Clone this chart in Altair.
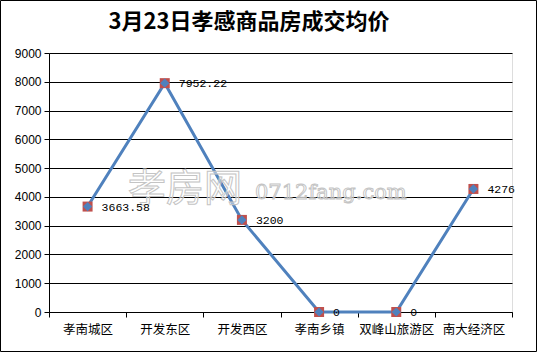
import altair as alt
import pandas as pd

categories = ["孝南城区", "开发东区", "开发西区", "孝南乡镇", "双峰山旅游区", "南大经济区"]
prices = [3663.58, 7952.22, 3200, 0, 0, 4276]
labels = ["3663.58", "7952.22", "3200", "0", "0", "4276"]
y_ticks = [0, 1000, 2000, 3000, 4000, 5000, 6000, 7000, 8000, 9000]
title_text = "3月23日孝感商品房成交均价"

df = pd.DataFrame({"区域": categories, "均价": prices, "label": labels})

W, H = 463, 259
PL, PT, PR, PB = 49, 53, 25, 40

x_enc = alt.X("区域:N", sort=categories,
              scale=alt.Scale(paddingInner=0, paddingOuter=0),
              axis=alt.Axis(title=None, labelAngle=0, tickBand="extent",
                            domainColor="black", tickColor="black", tickSize=5,
                            labelFont="Noto Sans CJK SC", labelFontSize=12.5,
                            labelColor="black", labelPadding=6, grid=False))
y_enc = alt.Y("均价:Q", scale=alt.Scale(domain=[0, 9000], nice=False),
              axis=alt.Axis(title=None, values=y_ticks, format="d", grid=True,
                            gridColor="black", gridOpacity=1, gridWidth=1,
                            domainColor="black", tickColor="black", tickSize=5,
                            labelFont="Liberation Sans", labelFontSize=12,
                            labelColor="black", labelPadding=3))

base = alt.Chart(df)

line = base.mark_line(color="#4F81BD", strokeWidth=3).encode(x=x_enc, y=y_enc)
squares = base.mark_point(shape="square", filled=True, color="#C0504D", size=100,
                          opacity=1).encode(x=x_enc, y=y_enc)
diamonds = base.mark_point(shape="diamond", filled=True, color="#4F81BD", size=85,
                           opacity=1).encode(x=x_enc, y=y_enc)
texts = base.mark_text(align="left", baseline="middle", dx=14, dy=1,
                       font="Liberation Mono", fontSize=11.5, color="black").encode(
    x=x_enc, y=y_enc, text="label:N")

wm_df = pd.DataFrame({"t": ["孝房网"]})
wm1 = alt.Chart(wm_df).mark_text(align="left", baseline="middle", font="Noto Sans CJK SC",
                                 fontSize=38, fill="white", fillOpacity=0.45,
                                 stroke="#c4c4c4", strokeWidth=1).encode(
    x=alt.value(79), y=alt.value(137), text="t:N")
wm_df2 = pd.DataFrame({"t": ["0712fang.com"]})
wm2 = alt.Chart(wm_df2).mark_text(align="left", baseline="middle", font="DejaVu Serif",
                                  fontSize=21, fill="white", fillOpacity=0.45,
                                  stroke="#c4c4c4", strokeWidth=1).encode(
    x=alt.value(206), y=alt.value(140), text="t:N")

title_df = pd.DataFrame({"t": [title_text]})
title = alt.Chart(title_df).mark_text(align="center", baseline="middle",
                                      font="Noto Sans CJK SC", fontSize=22,
                                      fontWeight="bold", color="black").encode(
    x=alt.value(249 - PL), y=alt.value(22 - PT), text="t:N")

frame = alt.Chart(wm_df).mark_rect(fill=None, stroke="black", strokeWidth=1,
                                   clip=False).encode(
    x=alt.value(-PL + 0.5), x2=alt.value(W + PR - 0.5),
    y=alt.value(-PT + 0.5), y2=alt.value(H + PB - 0.5))

chart = alt.layer(line, squares, diamonds, wm1, wm2, texts, title, frame).properties(
    width=W, height=H,
    autosize=alt.AutoSizeParams(type="none"),
    padding={"left": PL, "top": PT, "right": PR, "bottom": PB},
).configure_view(stroke=None).configure(background="white")

chart.save("out.html", embed_options={"renderer": "svg", "actions": False})
